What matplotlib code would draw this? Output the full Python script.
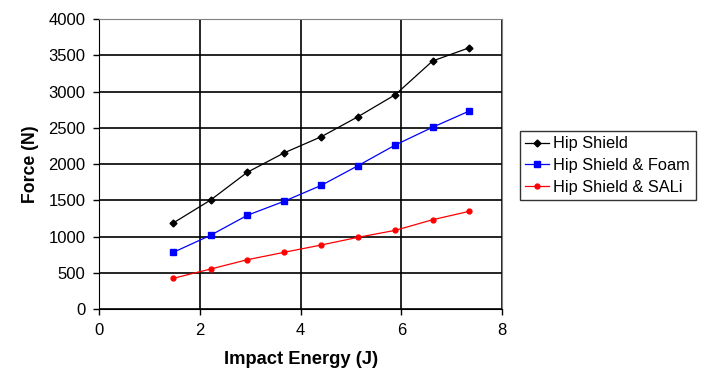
import matplotlib
matplotlib.use("Agg")
import matplotlib.pyplot as plt

plt.rcParams['font.family'] = ['Liberation Sans', 'DejaVu Sans']

energy = [1.47, 2.21, 2.94, 3.67, 4.41, 5.14, 5.88, 6.62, 7.35]
hip_shield = [1190, 1505, 1888, 2155, 2378, 2654, 2957, 3421, 3604]
hip_foam = [785, 1020, 1295, 1488, 1708, 1979, 2264, 2508, 2732]
hip_sali = [427, 555, 683, 785, 886, 992, 1088, 1234, 1350]

fig = plt.figure(figsize=(7.14, 3.78), dpi=100)
ax = fig.add_axes([99.3/714, 1-309.3/378, (502-99.3)/714, (309.3-19)/378])

ax.plot(energy, hip_shield, color='black', lw=0.9, marker='D', ms=3.5, label='Hip Shield')
ax.plot(energy, hip_foam, color='blue', lw=0.9, marker='s', ms=4.5, label='Hip Shield & Foam')
ax.plot(energy, hip_sali, color='red', lw=0.9, marker='o', ms=3.5, label='Hip Shield & SALi')

ax.set_xlim(0, 8)
ax.set_ylim(0, 4000)
ax.set_xticks(range(0, 9, 2))
ax.set_yticks(range(0, 4001, 500))
ax.grid(True, color='black', lw=1.2)
ax.set_axisbelow(True)
for s in ['top', 'right']:
    ax.spines[s].set_color('gray')
for s in ['left', 'bottom']:
    ax.spines[s].set_color('black')
ax.tick_params(direction='out', length=4, width=1, labelsize=12, colors='black', pad=6)

ax.set_xlabel('Impact Energy (J)', fontsize=13.2, fontweight='bold', labelpad=9)
ax.set_ylabel('Force (N)', fontsize=12.7, fontweight='bold', labelpad=7)

leg = fig.legend(loc='upper left', bbox_to_anchor=(520/714, 1-131/378), fontsize=11.8,
                 frameon=True, fancybox=False, edgecolor='black', borderaxespad=0,
                 handlelength=1.46, handletextpad=0.25, labelspacing=0.4, borderpad=0.33)
leg.get_frame().set_linewidth(1)

fig.savefig('out.png', dpi=100)
